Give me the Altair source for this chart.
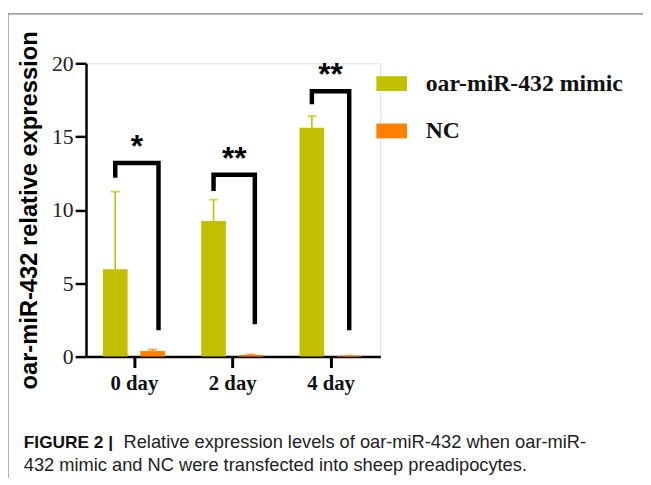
import json
import altair as alt
import pandas as pd

# ---------------- data ----------------
days = ["0 day", "2 day", "4 day"]
series_names = ["oar-miR-432 mimic", "NC"]
colors = ["#C0C000", "#FF8000"]

mimic_mean = [5.95, 9.25, 15.6]
mimic_sd = [5.3, 1.45, 0.8]
nc_mean = [0.38, 0.12, 0.05]
nc_sd = [0.10, 0.03, 0.02]

sig_labels = ["*", "**", "**"]
bracket_top = [13.2, 12.4, 18.1]
bracket_left_end = [12.2, 11.3, 17.2]
bracket_right_end = [1.8, 2.2, 1.8]
bracket_right_shift = [0.25, 0.23, 0.19]

caption_bold = "FIGURE 2 |"
caption_line1 = "Relative expression levels of oar-miR-432 when oar-miR-"
caption_line2 = "432 mimic and NC were transfected into sheep preadipocytes."

# ---------------- tables ----------------
series_shift = {series_names[0]: -0.19, series_names[1]: 0.19}
rows = []
for i, d in enumerate(days):
    for s, means, sds in ((series_names[0], mimic_mean, mimic_sd),
                          (series_names[1], nc_mean, nc_sd)):
        rows.append({"day": d, "series": s, "x": i + series_shift[s],
                     "y": means[i], "top": means[i] + sds[i]})
bars = pd.DataFrame(rows)

brow = []
for i in range(len(days)):
    xl = i + series_shift[series_names[0]]
    xr = i + bracket_right_shift[i]
    pts = [(xl, bracket_left_end[i]), (xl, bracket_top[i]),
           (xr, bracket_top[i]), (xr, bracket_right_end[i])]
    for k, (px, py) in enumerate(pts):
        brow.append({"g": days[i], "o": k, "x": px, "y": py})
brackets = pd.DataFrame(brow)

stars = pd.DataFrame({
    "x": [i + (series_shift[series_names[0]] + bracket_right_shift[i]) / 2 for i in range(len(days))],
    "y": bracket_top,
    "t": sig_labels,
})

legend_df = pd.DataFrame({"series": series_names, "idx": list(range(len(series_names)))})

# ---------------- scales / axes ----------------
color = alt.Color("series:N", scale=alt.Scale(domain=series_names, range=colors), legend=None)

xaxis = alt.Axis(
    values=[0, 1, 2],
    labelExpr=json.dumps(days) + "[datum.value]",
    title=None, grid=False,
    domainColor="black", domainWidth=2.5,
    tickColor="black", tickWidth=3, tickSize=11,
    labelFont="Liberation Serif", labelFontWeight="bold", labelFontSize=21,
    labelColor="#111", labelPadding=5,
)
yaxis = alt.Axis(
    values=[0, 5, 10, 15, 20], grid=False,
    domainColor="black", domainWidth=2.5,
    tickColor="black", tickWidth=2.5, tickSize=11,
    labelFont="Liberation Serif", labelFontSize=22, labelColor="#222", labelPadding=2,
    title="oar-miR-432 relative expression",
    titleFont="Liberation Sans", titleFontWeight="bold", titleFontSize=24,
    titleColor="black", titleAngle=270, titleX=-57, titleY=148.5,
    titleAlign="center", titleBaseline="middle",
)
X = alt.X("x:Q", scale=alt.Scale(domain=[-0.437, 2.456], nice=False, zero=False), axis=xaxis)
Y = alt.Y("y:Q", scale=alt.Scale(domain=[0, 20], nice=False), axis=yaxis)

bar_layer = alt.Chart(bars).mark_bar(size=25).encode(x=X, y=Y, color=color)
err_line = alt.Chart(bars).mark_rule(strokeWidth=1.6).encode(
    x=X, y=Y, y2=alt.Y2("top:Q"), color=color)
err_cap = alt.Chart(bars).mark_tick(orient="horizontal", size=9, thickness=1.8).encode(
    x=X, y=alt.Y("top:Q", scale=alt.Scale(domain=[0, 20], nice=False), axis=yaxis), color=color)

bracket_layer = alt.Chart(brackets).mark_line(
    color="black", strokeWidth=4.5, strokeJoin="miter", strokeCap="butt"
).encode(x=X, y=Y, detail="g:N", order="o:Q")

star_layer = alt.Chart(stars).mark_text(
    font="Liberation Sans", fontWeight="bold", fontSize=32, baseline="alphabetic", dy=-6, color="black"
).encode(x=X, y=Y, text="t:N")

leg_rect = alt.Chart(legend_df).transform_calculate(
    ly="13 + 48 * datum.idx", ly2="28 + 48 * datum.idx"
).mark_rect().encode(
    x=alt.value(294), x2=alt.value(325),
    y=alt.Y("ly:Q", scale=None), y2=alt.Y2("ly2:Q"), color=color)
leg_text = alt.Chart(legend_df).transform_calculate(
    ly="21 + 48 * datum.idx"
).mark_text(
    align="left", baseline="middle", font="Liberation Serif", fontWeight="bold",
    fontSize=24, color="#111"
).encode(x=alt.value(344), y=alt.Y("ly:Q", scale=None), text="series:N")

one = pd.DataFrame({"a": [0]})
frame_top = alt.Chart(one).mark_rule(color="#808080", strokeWidth=1.2).encode(
    x=alt.value(-79), x2=alt.value(564), y=alt.value(-50))
frame_left = alt.Chart(one).mark_rule(color="#808080", strokeWidth=1.2).encode(
    x=alt.value(-79), y=alt.value(-50), y2=alt.value(420))

cap_b = alt.Chart(pd.DataFrame({"t": [caption_bold]})).mark_text(
    align="left", baseline="alphabetic", font="Liberation Sans", fontWeight="bold",
    fontSize=17.5, color="#111").encode(x=alt.value(-63), y=alt.value(390), text="t:N")
cap_1 = alt.Chart(pd.DataFrame({"t": [caption_line1]})).mark_text(
    align="left", baseline="alphabetic", font="Liberation Sans",
    fontSize=18.5, color="#222").encode(x=alt.value(38), y=alt.value(390), text="t:N")
cap_2 = alt.Chart(pd.DataFrame({"t": [caption_line2]})).mark_text(
    align="left", baseline="alphabetic", font="Liberation Sans",
    fontSize=18.5, color="#222").encode(x=alt.value(-63), y=alt.value(413), text="t:N")

chart = alt.layer(
    frame_top, frame_left, bar_layer, err_line, err_cap, bracket_layer, star_layer,
    leg_rect, leg_text, cap_b, cap_1, cap_2
).properties(
    width=298, height=297,
    padding={"left": 79, "top": 53, "right": 266, "bottom": 127},
    autosize=alt.AutoSizeParams(type="none"),
).configure_view(stroke=None).configure(background="white")

chart.save("out.html", embed_options={"renderer": "svg", "actions": False})
